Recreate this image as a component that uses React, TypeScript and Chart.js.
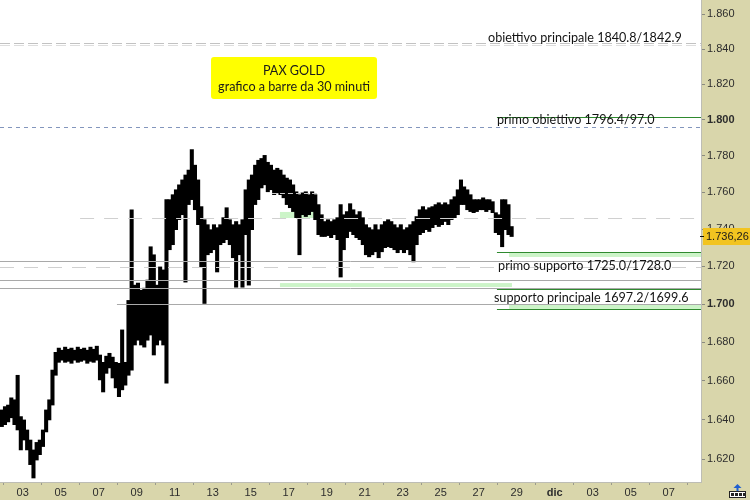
import React, { useEffect, useRef } from "react";
import { Chart, registerables } from "chart.js";

Chart.register(...registerables);

// ---- time axis (days of November; 31 = 1 Dec) ----
const START_DAY = 1.9;
const STEP_DAY = 1 / 6; // one bar every 4 hours (aggregated from 30-minute bars)
const X_MIN = 1.805;
const X_MAX = 38.7;
const X_TICK_DAYS = [3, 5, 7, 9, 11, 13, 15, 17, 19, 21, 23, 25, 27, 29, 31, 33, 35, 37];
const X_TICK_LABELS = ["03", "05", "07", "09", "11", "13", "15", "17", "19", "21", "23", "25", "27", "29", "dic", "03", "05", "07"];

// ---- price axis (logarithmic) ----
const Y_MIN = 1608.6;
const Y_MAX = 1868.3;
const Y_TICKS = [1620, 1640, 1660, 1680, 1700, 1720, 1740, 1760, 1780, 1800, 1820, 1840, 1860];

// ---- PAX GOLD bars (high / low) ----
const HIGHS = [
  1645.0, 1646.7, 1647.5, 1651.2, 1650.2, 1662.8, 1641.6, 1639.9, 1634.8, 1629.7,
  1624.7, 1628.5, 1629.7, 1634.8, 1645.0, 1650.2, 1665.5, 1674.7, 1676.9, 1675.8,
  1677.4, 1676.3, 1676.9, 1675.8, 1677.4, 1676.3, 1676.9, 1675.8, 1677.4, 1676.3,
  1677.9, 1673.3, 1669.5, 1672.7, 1674.2, 1672.2, 1669.5, 1669.0, 1686.4, 1669.5,
  1701.9, 1750.5, 1710.0, 1711.1, 1707.3, 1708.4, 1712.7, 1730.5, 1726.2, 1710.0,
  1719.7, 1718.1, 1756.0, 1756.0, 1758.7, 1761.4, 1764.1, 1766.8, 1769.5, 1772.2,
  1783.5, 1774.9, 1766.8, 1752.2, 1745.1, 1742.4, 1739.7, 1742.4, 1740.8, 1742.4,
  1746.2, 1751.6, 1745.1, 1742.4, 1744.1, 1742.4, 1745.1, 1761.4, 1766.8, 1769.5,
  1774.9, 1777.6, 1778.6, 1780.3, 1776.5, 1774.9, 1772.2, 1773.2, 1772.2, 1769.5,
  1767.8, 1766.8, 1764.1, 1760.3, 1758.7, 1759.7, 1760.3, 1758.7, 1760.3, 1758.7,
  1753.3, 1747.8, 1744.1, 1745.1, 1744.1, 1745.1, 1746.2, 1753.3, 1747.8, 1749.5,
  1753.8, 1750.5, 1747.8, 1749.5, 1746.2, 1742.4, 1740.8, 1739.7, 1742.4, 1739.7,
  1742.4, 1744.1, 1745.1, 1744.1, 1742.4, 1740.8, 1742.4, 1739.7, 1740.8, 1742.4,
  1744.1, 1746.8, 1750.5, 1752.2, 1750.5, 1751.6, 1752.2, 1753.3, 1754.3, 1753.3,
  1754.3, 1753.3, 1756.0, 1757.6, 1761.4, 1766.8, 1763.0, 1761.4, 1758.7, 1756.0,
  1756.0, 1756.0, 1757.0, 1756.0, 1756.0, 1754.9, 1748.9, 1747.8, 1756.0, 1756.0,
  1753.3, 1741.4,
];
const LOWS = [
  1636.5, 1637.5, 1638.9, 1641.0, 1637.5, 1634.8, 1624.7, 1629.7, 1624.7, 1617.3,
  1610.6, 1619.6, 1622.3, 1626.4, 1633.8, 1639.9, 1647.5, 1662.8, 1669.5, 1670.6,
  1669.5, 1670.0, 1669.0, 1670.6, 1669.5, 1670.0, 1670.6, 1669.0, 1670.0, 1669.5,
  1670.6, 1660.4, 1654.2, 1663.8, 1666.6, 1661.4, 1656.3, 1651.8, 1655.3, 1657.7,
  1662.8, 1665.5, 1678.5, 1681.0, 1678.5, 1677.4, 1681.0, 1683.7, 1673.3, 1678.5,
  1681.0, 1678.5, 1658.7, 1728.9, 1731.6, 1739.7, 1745.1, 1747.8, 1711.6, 1753.3,
  1756.0, 1750.5, 1742.4, 1719.7, 1700.3, 1726.2, 1727.3, 1728.9, 1717.0, 1731.6,
  1732.7, 1734.3, 1731.6, 1724.6, 1708.9, 1726.2, 1708.9, 1737.0, 1710.0, 1739.7,
  1753.3, 1756.0, 1762.4, 1764.1, 1760.3, 1761.4, 1758.7, 1759.7, 1758.7, 1757.0,
  1753.3, 1751.6, 1749.5, 1746.2, 1726.2, 1747.8, 1746.8, 1747.8, 1749.5, 1745.1,
  1737.0, 1736.0, 1736.0, 1736.5, 1735.4, 1737.0, 1734.3, 1714.3, 1728.9, 1735.4,
  1738.7, 1737.0, 1735.4, 1734.3, 1731.6, 1726.2, 1725.1, 1726.2, 1727.8, 1724.6,
  1727.8, 1730.0, 1730.5, 1730.0, 1728.9, 1727.3, 1728.9, 1727.3, 1728.9, 1726.2,
  1722.4, 1731.6, 1737.0, 1738.1, 1739.7, 1738.7, 1740.8, 1742.4, 1741.4, 1742.4,
  1744.1, 1742.4, 1745.1, 1746.2, 1747.8, 1753.3, 1753.3, 1750.5, 1749.5, 1748.9,
  1749.5, 1750.5, 1750.5, 1749.5, 1750.5, 1748.9, 1738.1, 1737.0, 1730.5, 1739.7,
  1737.0, 1736.0,
];

const LAST_PRICE = 1736.26;
const LAST_PRICE_LABEL = "1.736,26";

// ---- analysis levels ----
const GRAY_LEVELS = [
  { value: 1722.9, from: X_MIN },
  { value: 1712.5, from: X_MIN },
  { value: 1708.3, from: X_MIN },
  { value: 1699.8, from: 7.96 },
];
const DASHED_LEVELS = [
  { value: 1843.7, from: X_MIN, to: X_MAX, color: "#c2c2c2", dash: [10, 4] },
  { value: 1842.4, from: X_MIN, to: X_MAX, color: "#dedede", dash: [10, 4] },
  { value: 1795.9, from: X_MIN, to: X_MAX, color: "#8396bd", dash: [4, 4] },
  { value: 1746.0, from: 6.02, to: X_MAX, color: "#d0d0d0", dash: [14, 10] },
  { value: 1759.6, from: 16.12, to: 18.54, color: "#c8c8c8", dash: [5, 3] },
  { value: 1719.5, from: X_MIN, to: X_MAX, color: "#d0d0d0", dash: [14, 10] },
];
const GREEN_LEVELS = [1801.8, 1727.7, 1708.1, 1697.4];
const GREEN_FROM = 27.96;
const GREEN_BANDS = [
  { lo: 1725.0, hi: 1727.7, from: 28.6, to: X_MAX },
  { lo: 1709.0, hi: 1711.1, from: 16.54, to: 28.75 },
  { lo: 1697.4, hi: 1699.5, from: 28.6, to: X_MAX },
  { lo: 1746.0, hi: 1749.3, from: 16.54, to: 18.49 },
];
const NOTES = [
  { text: "obiettivo principale 1840.8/1842.9", day: 27.49, price: 1846.4 },
  { text: "primo obiettivo 1796.4/97.0", day: 27.96, price: 1800.0 },
  { text: "primo supporto 1725.0/1728.0", day: 28.02, price: 1720.2 },
  { text: "supporto principale 1697.2/1699.6", day: 27.8, price: 1703.2 },
];
const TITLE_LINES = ["PAX GOLD", "grafico a barre da 30 minuti"];
const TITLE_DAY = 17.28;
const TITLE_PRICE = 1823.6;

const AXIS_BG = "#d9d6ab";
const TICK_FONT = "Liberation Sans";
const NOTE_FONT = "12.6px Lato";

function fmtPrice(v: number): string {
  const s = String(Math.round(v));
  return s.slice(0, 1) + "." + s.slice(1);
}

const decorPlugin = {
  id: "decor",
  beforeDraw(chart: any) {
    const { ctx, chartArea: a, width, height } = chart;
    ctx.save();
    ctx.fillStyle = AXIS_BG;
    ctx.fillRect(0, 0, width, height);
    ctx.fillStyle = "#ffffff";
    ctx.fillRect(a.left, a.top, a.right - a.left, a.bottom - a.top);
    ctx.restore();
  },
  beforeDatasetsDraw(chart: any) {
    const { ctx, scales } = chart;
    const x = scales.x, y = scales.y;
    ctx.save();
    ctx.fillStyle = "#ccf4c8";
    GREEN_BANDS.forEach((b) => {
      const x0 = x.getPixelForValue(b.from), x1 = x.getPixelForValue(b.to);
      const y0 = y.getPixelForValue(b.hi), y1 = y.getPixelForValue(b.lo);
      ctx.fillRect(x0, y0, x1 - x0, y1 - y0);
    });
    ctx.restore();
  },
  afterDatasetsDraw(chart: any) {
    const { ctx, scales } = chart;
    const x = scales.x, y = scales.y;
    const hline = (v: number, d0: number, d1: number, color: string, dash: number[]) => {
      const yy = Math.round(y.getPixelForValue(v)) + 0.5;
      ctx.beginPath();
      ctx.setLineDash(dash);
      ctx.strokeStyle = color;
      ctx.lineWidth = 1;
      ctx.moveTo(x.getPixelForValue(d0), yy);
      ctx.lineTo(x.getPixelForValue(d1), yy);
      ctx.stroke();
    };
    ctx.save();
    DASHED_LEVELS.forEach((l) => hline(l.value, l.from, l.to, l.color, l.dash));
    GRAY_LEVELS.forEach((l) => hline(l.value, l.from, X_MAX, "#a9a9a9", []));
    GREEN_LEVELS.forEach((v) => hline(v, GREEN_FROM, X_MAX, "#2f8a2f", []));
    ctx.restore();
  },
  afterDraw(chart: any) {
    const { ctx, scales, chartArea: a, width, height } = chart;
    const x = scales.x, y = scales.y;
    ctx.save();
    // notes
    ctx.font = NOTE_FONT;
    ctx.fillStyle = "#141414";
    ctx.textBaseline = "middle";
    ctx.textAlign = "left";
    NOTES.forEach((n) => {
      ctx.fillText(n.text, x.getPixelForValue(n.day), y.getPixelForValue(n.price));
    });
    // title box
    const cx = x.getPixelForValue(TITLE_DAY);
    const cy = y.getPixelForValue(TITLE_PRICE);
    ctx.fillStyle = "#ffff00";
    ctx.beginPath();
    ctx.roundRect(cx - 83, cy - 21, 166, 42, 3);
    ctx.fill();
    ctx.fillStyle = "#1a1a1a";
    ctx.textAlign = "center";
    ctx.fillText(TITLE_LINES[0], cx, cy - 7.5);
    ctx.fillText(TITLE_LINES[1], cx, cy + 8.5);
    // last price label
    const py = y.getPixelForValue(LAST_PRICE);
    ctx.fillStyle = "#f2c420";
    ctx.fillRect(a.right + 2, Math.round(py) - 8, width - a.right - 2, 17);
    ctx.fillStyle = "#111";
    ctx.fillRect(a.right - 1, Math.round(py), 4, 1);
    ctx.font = `11px ${TICK_FONT}`;
    ctx.textAlign = "left";
    ctx.fillStyle = "#1a1a1a";
    ctx.fillText(LAST_PRICE_LABEL, a.right + 5, Math.round(py) + 0.5);
    // small corner icon
    const ix = width - 21, iy = height - 16;
    ctx.fillStyle = "#ffffff";
    ctx.fillRect(ix, iy + 7, 17, 7);
    ctx.strokeStyle = "#222";
    ctx.lineWidth = 1;
    ctx.strokeRect(ix + 0.5, iy + 7.5, 16, 6);
    ctx.fillStyle = "#222";
    for (let k = 0; k < 4; k++) ctx.fillRect(ix + 2 + k * 4, iy + 9, 3, 3);
    ctx.fillStyle = "#1f5fd0";
    ctx.beginPath();
    ctx.moveTo(ix + 8.5, iy);
    ctx.lineTo(ix + 12.5, iy + 4);
    ctx.lineTo(ix + 4.5, iy + 4);
    ctx.closePath();
    ctx.fill();
    ctx.fillRect(ix + 7.5, iy + 4, 2, 3);
    ctx.restore();
  },
};

export default function App() {
  const canvasRef = useRef<HTMLCanvasElement | null>(null);

  useEffect(() => {
    document.body.style.margin = "0";
    const canvas = canvasRef.current;
    if (!canvas) return;
    const barData = HIGHS.map((h, i) => ({ x: START_DAY + i * STEP_DAY, y: [LOWS[i], h] }));
    const chart = new Chart(canvas, {
      type: "bar",
      data: {
        datasets: [
          {
            data: barData as any,
            backgroundColor: "#000000",
            borderWidth: 0,
            barThickness: 3.4,
          },
        ],
      },
      options: {
        responsive: false,
        animation: false,
        events: [],
        layout: { padding: 0 },
        plugins: { legend: { display: false }, tooltip: { enabled: false } },
        scales: {
          x: {
            type: "linear",
            min: X_MIN,
            max: X_MAX,
            offset: false,
            afterBuildTicks: (s: any) => {
              s.ticks = X_TICK_DAYS.map((v) => ({ value: v }));
            },
            afterFit: (s: any) => {
              s.height = 18;
              s.paddingLeft = 0;
              s.paddingRight = 0;
            },
            grid: { display: true, drawOnChartArea: false, tickLength: 3, color: "#9a9a8c" },
            border: { display: true, color: "#bdbdb5" },
            ticks: {
              autoSkip: false,
              maxRotation: 0,
              padding: 1,
              color: "#2d2d2d",
              font: (ctx: any) => ({
                family: TICK_FONT,
                size: 11,
                weight: X_TICK_LABELS[ctx.index] === "dic" ? "bold" : "normal",
              }),
              callback: (_v: any, i: number) => X_TICK_LABELS[i],
            },
          },
          y: {
            type: "logarithmic",
            position: "right",
            min: Y_MIN,
            max: Y_MAX,
            afterBuildTicks: (s: any) => {
              s.ticks = Y_TICKS.map((v) => ({ value: v }));
            },
            afterFit: (s: any) => {
              s.width = 49;
              s.paddingTop = 0;
              s.paddingBottom = 0;
            },
            grid: { display: true, drawOnChartArea: false, tickLength: 4, color: "#8a8a80" },
            border: { display: true, color: "#bdbdb5" },
            ticks: {
              padding: 2,
              color: "#2d2d2d",
              font: (ctx: any) => ({
                family: TICK_FONT,
                size: 11,
                weight: ctx.tick && ctx.tick.value % 100 === 0 ? "bold" : "normal",
              }),
              callback: (v: any) => fmtPrice(Number(v)),
            },
          },
        },
      },
      plugins: [decorPlugin],
    });
    return () => chart.destroy();
  }, []);

  return (
    <div style={{ width: 750, height: 500 }}>
      <canvas ref={canvasRef} width={750} height={500} style={{ display: "block" }} />
    </div>
  );
}
